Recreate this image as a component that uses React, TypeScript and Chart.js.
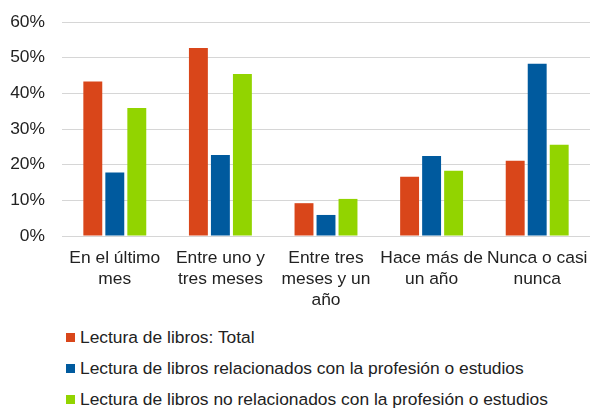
import React, { useEffect, useRef } from "react";
import { Chart, registerables } from "chart.js";

Chart.register(...registerables);

const categories: string[][] = [
  ["En el último", "mes"],
  ["Entre uno y", "tres meses"],
  ["Entre tres", "meses y un", "año"],
  ["Hace más de", "un año"],
  ["Nunca o casi", "nunca"],
];

const seriesNames = [
  "Lectura de libros: Total",
  "Lectura de libros relacionados con la profesión o estudios",
  "Lectura de libros no relacionados con la profesión o estudios",
];

const totalValues = [43.3, 52.7, 9.2, 16.6, 21.1];
const relatedValues = [17.8, 22.7, 5.9, 22.4, 48.3];
const unrelatedValues = [35.9, 45.4, 10.4, 18.3, 25.6];

const colors = ["#D9461A", "#005A9E", "#92D400"];

const yTicks = [0, 10, 20, 30, 40, 50, 60];

const FONT = "'Liberation Sans', Arial, sans-serif";
const TEXT = "#222222";
const FS = 17.4;

export default function App() {
  const ref = useRef<HTMLCanvasElement | null>(null);

  useEffect(() => {
    if (!ref.current) return;
    const values = [totalValues, relatedValues, unrelatedValues];
    const chart = new Chart(ref.current, {
      type: "bar",
      data: {
        labels: categories,
        datasets: seriesNames.map((name, i) => ({
          label: name,
          data: values[i],
          backgroundColor: colors[i],
          borderWidth: 0,
          categoryPercentage: 0.625,
          barPercentage: 0.86,
        })),
      },
      options: {
        animation: false,
        responsive: false,
        maintainAspectRatio: false,
        layout: { padding: { top: 22, right: 0, bottom: 0, left: 0 } },
        plugins: { legend: { display: false }, tooltip: { enabled: false } },
        scales: {
          x: {
            grid: { display: false, drawTicks: false },
            border: { display: false },
            ticks: {
              autoSkip: false,
              maxRotation: 0,
              minRotation: 0,
              padding: 12,
              color: TEXT,
              font: { family: FONT, size: FS, lineHeight: 1.21 },
            },
            afterFit: (scale: any) => {
              scale.height = 76;
              scale.paddingLeft = 0;
              scale.paddingRight = 0;
            },
          },
          y: {
            min: 0,
            max: 60,
            afterBuildTicks: (scale: any) => {
              scale.ticks = yTicks.map((v) => ({ value: v }));
            },
            grid: { color: "#d6d6d6", lineWidth: 1, drawTicks: false },
            border: { display: false },
            ticks: {
              padding: 17,
              color: TEXT,
              font: { family: FONT, size: FS },
              callback: (v: any) => `${v}%`,
            },
            afterFit: (scale: any) => {
              scale.width = 62;
              scale.paddingTop = 0;
              scale.paddingBottom = 0;
            },
          },
        },
      },
    });
    return () => chart.destroy();
  }, []);

  return (
    <div style={{ position: "absolute", left: 0, top: 0, width: 590, height: 408, background: "#fff" }}>
      <canvas ref={ref} width={590} height={312} style={{ position: "absolute", left: 0, top: 0 }} />
      {seriesNames.map((name, i) => (
        <div
          key={name}
          style={{
            position: "absolute",
            left: 66,
            top: 337 + i * 31 - 12,
            height: 24,
            display: "flex",
            alignItems: "center",
            whiteSpace: "nowrap",
            fontFamily: FONT,
            fontSize: FS,
            color: TEXT,
          }}
        >
          <span style={{ display: "inline-block", width: 9, height: 9, background: colors[i], marginRight: 5 }} />
          <span>{name}</span>
        </div>
      ))}
    </div>
  );
}
